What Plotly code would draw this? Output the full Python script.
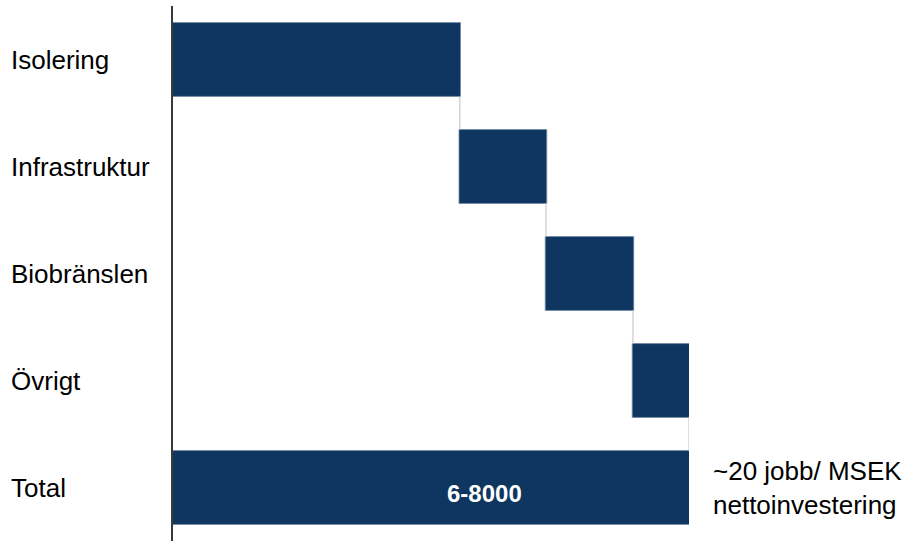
import plotly.graph_objects as go

kategorier = ["Isolering", "Infrastruktur", "Biobränslen", "Övrigt", "Total"]
varden = [3890, 1170, 1180, 760, 0]
matt = ["relative", "relative", "relative", "relative", "total"]
total_etikett = "6-8000"
kommentar = "~20 jobb/ MSEK<br>nettoinvestering"

bla = "#0e3660"

fig = go.Figure()
fig.add_trace(go.Waterfall(
    orientation="h",
    y=kategorier,
    x=varden,
    measure=matt,
    increasing=dict(marker=dict(color=bla, line=dict(color="#6f88a3", width=0.8))),
    decreasing=dict(marker=dict(color=bla, line=dict(color="#6f88a3", width=0.8))),
    totals=dict(marker=dict(color=bla, line=dict(color="#6f88a3", width=0.8))),
    connector=dict(mode="between", line=dict(color="#d4d4d4", width=1.5)),
    textinfo="none",
    hoverinfo="x+y",
))

# kategori-etiketter, vänsterjusterade
for k in kategorier:
    fig.add_annotation(x=0, xref="paper", y=k, yref="y", text=k, showarrow=False,
                       xanchor="left", xshift=-164, font=dict(size=26, color="#000000"))

fig.add_annotation(x=4220, y="Total", text="<b>" + total_etikett + "</b>", showarrow=False,
                   yshift=-6, font=dict(size=24, color="white"))
fig.add_annotation(x=1, xref="paper", y="Total", text=kommentar, showarrow=False,
                   xanchor="left", align="left", xshift=22, font=dict(size=26, color="#000000"))

fig.update_layout(
    width=906, height=541,
    margin=dict(l=173, r=217, t=6, b=0),
    plot_bgcolor="white", paper_bgcolor="white",
    font=dict(family="Liberation Sans, Arial, sans-serif"),
    showlegend=False,
    waterfallgap=0.31,
)
fig.update_xaxes(range=[0, 7000], showgrid=False, zeroline=False, showticklabels=False,
                 showline=False)
fig.update_yaxes(autorange="reversed", showgrid=False, zeroline=False, showticklabels=False,
                 showline=True, linecolor="#3a3a3a", linewidth=1.5, ticks="")

fig.write_html("out.html", config={"displayModeBar": False},
               post_script="document.body.style.margin='0';")
